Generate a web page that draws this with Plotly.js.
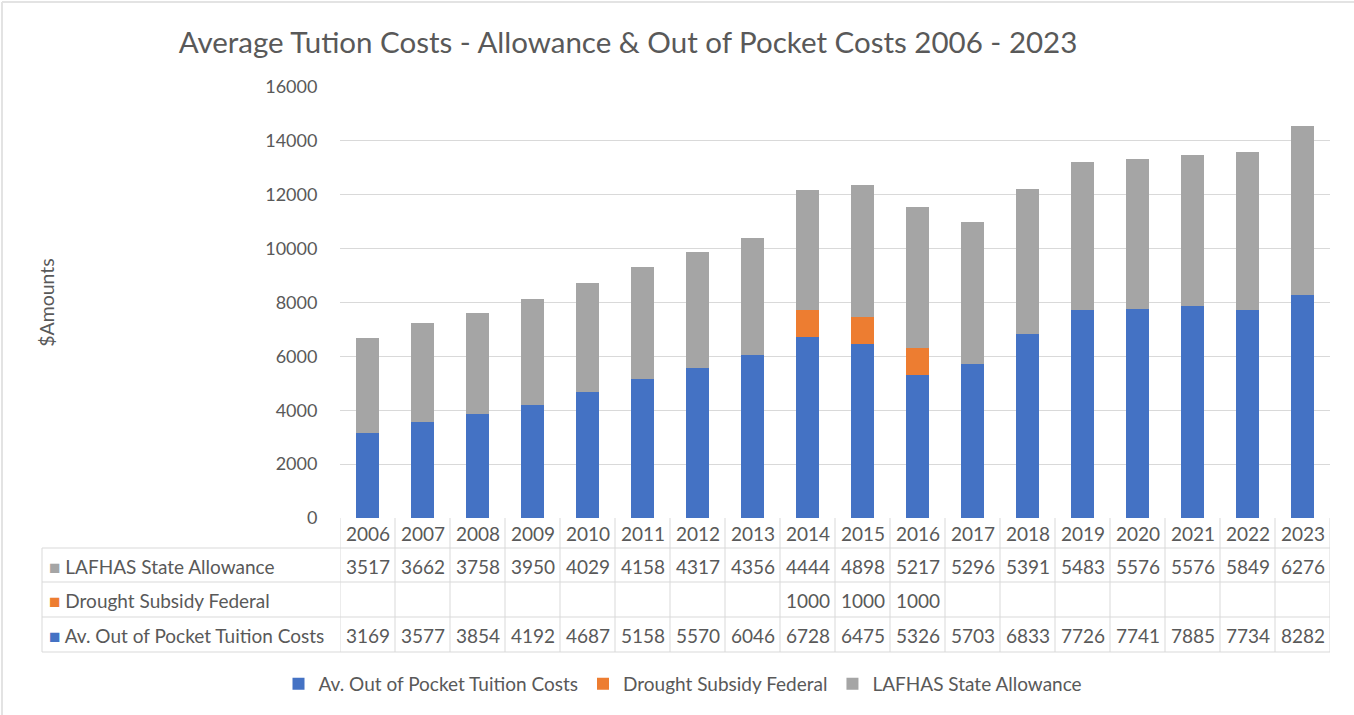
<!DOCTYPE html>
<html>
<head>
<meta charset="utf-8">
<script src="https://cdn.plot.ly/plotly-3.0.1.min.js"></script>
<style>html,body{margin:0;padding:0;background:#fff;}#chart{width:1354px;height:715px;}</style>
</head>
<body>
<div id="chart"></div>
<script>
var years = ["2006","2007","2008","2009","2010","2011","2012","2013","2014","2015","2016","2017","2018","2019","2020","2021","2022","2023"];
var outOfPocket = [3169,3577,3854,4192,4687,5158,5570,6046,6728,6475,5326,5703,6833,7726,7741,7885,7734,8282];
var drought = [null,null,null,null,null,null,null,null,1000,1000,1000,null,null,null,null,null,null,null];
var lafhas = [3517,3662,3758,3950,4029,4158,4317,4356,4444,4898,5217,5296,5391,5483,5576,5576,5849,6276];
var seriesNames = ["Av. Out of Pocket Tuition Costs","Drought Subsidy Federal","LAFHAS State Allowance"];
var colors = ["#4472C4","#ED7D31","#A5A5A5"];
var yTicks = [0,2000,4000,6000,8000,10000,12000,14000,16000];

var FONT = "Lato, 'Open Sans', sans-serif";
var TXT = "#595959";
var W = 1354, H = 715, L = 340, R = 1330, T = 87, B = 518;
function py(y){ return (B - y) / (B - T); }
function px(x){ return (x - L) / (R - L); }

var traces = [
  {type:'bar', x:years, y:outOfPocket, name:seriesNames[0], marker:{color:colors[0]}},
  {type:'bar', x:years, y:drought, name:seriesNames[1], marker:{color:colors[1]}},
  {type:'bar', x:years, y:lafhas, name:seriesNames[2], marker:{color:colors[2]}}
];

var rowEdges = [518, 548, 582, 617, 652];
var lineCol = "#D9D9D9";
var shapes = [];
var annotations = [];
for (var i = 0; i <= years.length; i++) {
  shapes.push({type:'line', xref:'x', yref:'paper', x0:i-0.5, x1:i-0.5, y0:py(rowEdges[0]), y1:py(rowEdges[4]), line:{color:lineCol, width:1}});
}
shapes.push({type:'line', xref:'paper', yref:'paper', x0:px(42), x1:px(42), y0:py(rowEdges[1]), y1:py(rowEdges[4]), line:{color:lineCol, width:1}});
for (var r = 1; r < rowEdges.length; r++) {
  shapes.push({type:'line', xref:'paper', yref:'paper', x0:px(42), x1:1, y0:py(rowEdges[r]), y1:py(rowEdges[r]), line:{color:lineCol, width:1}});
}
// outer chart border (top and left)
shapes.push({type:'line', xref:'paper', yref:'paper', x0:px(2), x1:px(1354), y0:py(2), y1:py(2), line:{color:'#E3E3E3', width:2}});
shapes.push({type:'line', xref:'paper', yref:'paper', x0:px(2), x1:px(2), y0:py(2), y1:py(715), line:{color:'#E3E3E3', width:2}});

var FS = 19;
years.forEach(function(yr, j){
  annotations.push({xref:'x', yref:'paper', x:j, y:py(533), text:yr, showarrow:false, font:{family:FONT, size:FS, color:TXT}, xanchor:'center', yanchor:'middle'});
});
var rows = [[lafhas, 2, 566], [drought, 1, 600], [outOfPocket, 0, 635]];
rows.forEach(function(row){
  var data = row[0], si = row[1], yc = row[2];
  annotations.push({xref:'paper', yref:'paper', x:px(47), y:py(yc), xanchor:'left', yanchor:'middle', showarrow:false,
    text:'<span style="color:'+colors[si]+'">■</span> '+seriesNames[si], font:{family:FONT, size:FS, color:TXT}});
  data.forEach(function(v, j){
    if (v === null) return;
    annotations.push({xref:'x', yref:'paper', x:j, y:py(yc), text:String(v), showarrow:false, font:{family:FONT, size:FS, color:TXT}, xanchor:'center', yanchor:'middle'});
  });
});

var layout = {
  width:W, height:H,
  margin:{l:L, r:W-R, t:T, b:H-B, pad:0},
  paper_bgcolor:'#fff', plot_bgcolor:'#fff',
  barmode:'stack', bargap:0.57,
  title:{text:'Average Tution Costs - Allowance &amp; Out of Pocket Costs 2006 - 2023', font:{family:FONT, size:29.5, color:TXT},
    x:px(628), xref:'paper', xanchor:'center', y:1-43/H, yanchor:'middle'},
  xaxis:{type:'category', range:[-0.5, years.length-0.5], showticklabels:false, showgrid:false, zeroline:false, showline:false, fixedrange:true},
  yaxis:{range:[0,16000], tickvals:yTicks, ticktext:yTicks.map(String), showgrid:true, gridcolor:lineCol, gridwidth:1, zeroline:false, showline:false,
    ticks:'outside', ticklen:18, tickcolor:'rgba(0,0,0,0)', tickfont:{family:FONT, size:18, color:TXT},
    title:{text:'$Amounts', font:{family:FONT, size:19.5, color:TXT}, standoff:205}},
  showlegend:true,
  legend:{orientation:'h', x:px(683), xanchor:'center', y:py(684), yanchor:'middle', font:{family:FONT, size:FS, color:TXT}, traceorder:'normal', itemclick:false},
  shapes:shapes, annotations:annotations
};
Plotly.newPlot('chart', traces, layout, {displayModeBar:false, staticPlot:true});
</script>
</body>
</html>
